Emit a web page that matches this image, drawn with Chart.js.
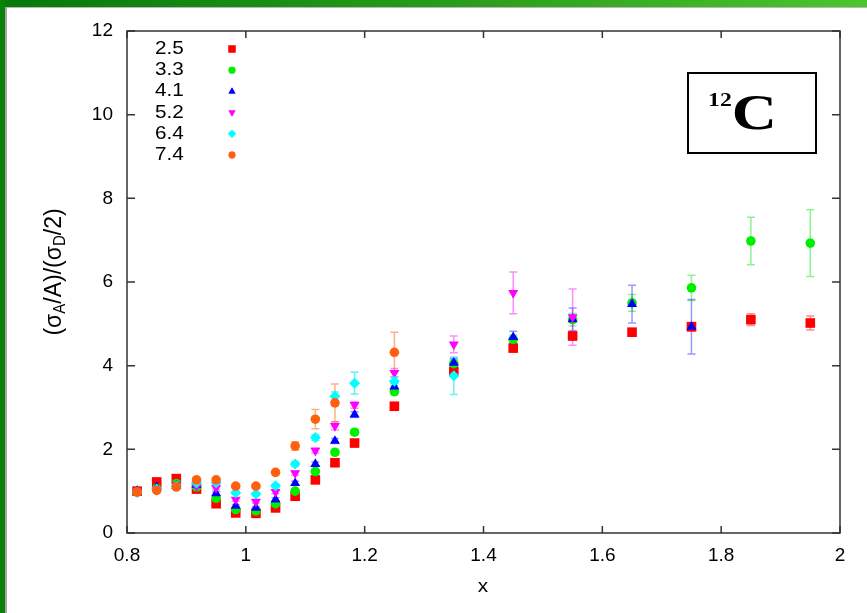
<!DOCTYPE html>
<html><head><meta charset="utf-8">
<script src="https://cdn.jsdelivr.net/npm/chart.js@4.4.1/dist/chart.umd.min.js"></script>
<style>
html,body{margin:0;padding:0;background:#fff;}
#wrap{position:relative;width:867px;height:613px;overflow:hidden;background:#fff;}
#c{position:absolute;left:0;top:0;}
#topbar{position:absolute;left:0;top:0;width:867px;height:7px;background:linear-gradient(to right,#07780a,#2c9e1c 55%,#4ec42e);}
#topline{position:absolute;left:0;top:7px;width:867px;height:1px;background:#b8b8b8;}
#leftbar{position:absolute;left:0;top:0;width:5px;height:613px;background:#0a820a;}
#leftline{position:absolute;left:5px;top:7px;width:2px;height:606px;background:#a8a8a8;}
</style></head>
<body><div id="wrap"><canvas id="c" width="867" height="613"></canvas>
<div id="topbar"></div><div id="topline"></div><div id="leftbar"></div><div id="leftline"></div></div>
<script>
// ---- data ----
const xValues = [0.817,0.85,0.883,0.917,0.95,0.983,1.017,1.05,1.083,1.117,1.15,1.183,1.25,1.35,1.45,1.55,1.65,1.75,1.85,1.95];
const seriesLabels = ['2.5','3.3','4.1','5.2','6.4','7.4'];
const y25 = [1.00,1.22,1.30,1.05,0.70,0.48,0.47,0.60,0.88,1.27,1.68,2.15,3.03,3.86,4.42,4.71,4.80,4.93,5.10,5.02];
const e25 = [0.04,0.04,0.05,0.04,0.04,0.03,0.03,0.03,0.04,0.05,0.06,0.07,0.08,0.08,0.08,0.10,0.08,0.10,0.14,0.17];
const y33 = [0.98,1.07,1.18,1.10,0.83,0.56,0.53,0.70,1.00,1.47,1.93,2.41,3.38,4.05,4.63,5.10,5.50,5.86,6.98,6.93];
const e33 = [0.04,0.04,0.04,0.04,0.04,0.03,0.03,0.03,0.04,0.05,0.06,0.07,0.08,0.10,0.10,0.15,0.20,0.30,0.57,0.80];
const y41 = [1.00,1.10,1.13,1.15,0.95,0.65,0.60,0.80,1.19,1.65,2.20,2.83,3.50,4.07,4.68,5.11,5.47,4.93,null,null];
const e41 = [0.04,0.04,0.04,0.04,0.04,0.03,0.03,0.04,0.05,0.05,0.06,0.07,0.08,0.10,0.14,0.27,0.45,0.65,null,null];
const y52 = [1.00,1.05,1.15,1.12,1.08,0.80,0.75,0.98,1.43,1.97,2.56,3.06,3.83,4.51,5.74,5.16,null,null,null,null];
const e52 = [0.04,0.04,0.04,0.04,0.04,0.04,0.04,0.04,0.05,0.06,0.10,0.08,0.10,0.20,0.50,0.67,null,null,null,null];
const y64 = [0.97,1.05,1.12,1.20,1.20,0.96,0.93,1.13,1.65,2.28,3.27,3.58,3.63,3.76,null,null,null,null,null,null];
const e64 = [0.04,0.04,0.04,0.04,0.04,0.04,0.04,0.05,0.06,0.07,0.10,0.26,0.10,0.45,null,null,null,null,null,null];
const y74 = [0.98,1.02,1.10,1.27,1.27,1.12,1.12,1.45,2.08,2.72,3.11,null,4.32,null,null,null,null,null,null,null];
const e74 = [0.04,0.04,0.04,0.05,0.05,0.04,0.04,0.05,0.10,0.23,0.45,null,0.48,null,null,null,null,null,null,null];
const xTicks = [0.8,1,1.2,1.4,1.6,1.8,2];
const yTicks = [0,2,4,6,8,10,12];

const seriesY = [y25,y33,y41,y52,y64,y74];
const seriesE = [e25,e33,e41,e52,e64,e74];
const colors = ['#ff0000','#00ee00','#0000ff','#ff00ff','#00ffff','#ff6010'];
const errColors = ['rgba(255,0,0,0.45)','rgba(0,230,0,0.45)','rgba(0,0,255,0.4)','rgba(255,0,255,0.45)','rgba(0,230,230,0.6)','rgba(255,96,16,0.5)'];
const styles = [
  {pointStyle:'rect',rotation:0,radius:6.8,lr:5},
  {pointStyle:'circle',rotation:0,radius:4.8,lr:3.4},
  {pointStyle:'triangle',rotation:0,radius:5.8,lr:4},
  {pointStyle:'triangle',rotation:180,radius:5.8,lr:4},
  {pointStyle:'rectRot',rotation:0,radius:5.5,lr:4},
  {pointStyle:'circle',rotation:0,radius:4.8,lr:3.4}
];

const datasets = seriesLabels.map((lab,si)=>({
  label: lab,
  data: xValues.map((x,i)=>({x:x,y:seriesY[si][i],e:seriesE[si][i]})).filter(p=>p.y!==null),
  backgroundColor: colors[si], borderColor: colors[si], borderWidth:0,
  pointStyle: styles[si].pointStyle, rotation: styles[si].rotation,
  pointRadius: styles[si].radius, pointHoverRadius: styles[si].radius,
  showLine:false, order: 6-si, errColor: errColors[si]
}));

const FONT = 'Liberation Sans, Arial, Helvetica, sans-serif';

const errPlugin = {id:'errbars', beforeDatasetsDraw(chart){
  const ctx = chart.ctx, xs = chart.scales.x, ys = chart.scales.y;
  chart.data.datasets.forEach(ds=>{
    ctx.save(); ctx.strokeStyle = ds.errColor; ctx.lineWidth = 1.5;
    ds.data.forEach(p=>{
      if(!p.e) return;
      const px = xs.getPixelForValue(p.x), a = ys.getPixelForValue(p.y-p.e), b = ys.getPixelForValue(p.y+p.e);
      ctx.beginPath();
      ctx.moveTo(px,a); ctx.lineTo(px,b);
      ctx.moveTo(px-4,a); ctx.lineTo(px+4,a);
      ctx.moveTo(px-4,b); ctx.lineTo(px+4,b);
      ctx.stroke();
    });
    ctx.restore();
  });
}};

function stretchText(ctx, txt, x, y, sx){
  ctx.save(); ctx.translate(x, y); ctx.scale(sx, 1); ctx.fillText(txt, 0, 0); ctx.restore();
}

const decoPlugin = {id:'deco', afterDraw(chart){
  const ctx = chart.ctx, xs = chart.scales.x, ys = chart.scales.y, ca = chart.chartArea;
  ctx.save();
  // frame
  ctx.strokeStyle = '#333'; ctx.lineWidth = 1.5;
  ctx.strokeRect(ca.left, ca.top, ca.right-ca.left, ca.bottom-ca.top);
  // inward ticks
  ctx.beginPath();
  xTicks.forEach(v=>{ const p = xs.getPixelForValue(v);
    ctx.moveTo(p,ca.bottom); ctx.lineTo(p,ca.bottom-7);
    ctx.moveTo(p,ca.top); ctx.lineTo(p,ca.top+7); });
  yTicks.forEach(v=>{ const p = ys.getPixelForValue(v);
    ctx.moveTo(ca.left,p); ctx.lineTo(ca.left+8,p);
    ctx.moveTo(ca.right,p); ctx.lineTo(ca.right-8,p); });
  ctx.stroke();
  // legend
  ctx.font = '18px ' + FONT; ctx.textBaseline = 'middle'; ctx.textAlign = 'left';
  seriesLabels.forEach((lab,i)=>{
    const yy = 49 + i*21.2;
    ctx.fillStyle = '#000'; stretchText(ctx, lab, 155, yy, 1.15);
    ctx.fillStyle = colors[i]; ctx.strokeStyle = colors[i];
    Chart.helpers.drawPoint(ctx, {pointStyle:styles[i].pointStyle, rotation:styles[i].rotation, radius:styles[i].lr, borderWidth:0}, 232, yy);
    ctx.fill();
  });
  // x title
  ctx.fillStyle = '#000'; ctx.textAlign = 'center'; ctx.textBaseline = 'middle';
  ctx.font = '18px ' + FONT; stretchText(ctx, 'x', 483, 587, 1.15);
  // y title with subscripts
  const parts = [['(σ',0],['A',1],['/A)/(σ',0],['D',1],['/2)',0]];
  const mainF = '23px ' + FONT, subF = '15px ' + FONT;
  let total = 0;
  parts.forEach(p=>{ ctx.font = p[1]?subF:mainF; total += ctx.measureText(p[0]).width; });
  ctx.save(); ctx.translate(54, 272); ctx.rotate(-Math.PI/2); ctx.scale(1, 1.05);
  ctx.textAlign = 'left'; ctx.textBaseline = 'middle';
  let cx = -total/2;
  parts.forEach(p=>{ ctx.font = p[1]?subF:mainF; ctx.fillText(p[0], cx, p[1]?6:0); cx += ctx.measureText(p[0]).width; });
  ctx.restore();
  // 12C label box
  ctx.fillStyle = '#fff'; ctx.fillRect(688,73,128,80);
  ctx.strokeStyle = '#000'; ctx.lineWidth = 2; ctx.strokeRect(688,73,128,80);
  ctx.fillStyle = '#000'; ctx.textAlign = 'left'; ctx.textBaseline = 'alphabetic';
  ctx.save(); ctx.translate(708, 0); ctx.scale(1.25, 1);
  ctx.font = 'bold 19px "Liberation Serif", "Times New Roman", serif'; ctx.fillText('12', 0, 106);
  const w12 = ctx.measureText('12').width;
  ctx.font = 'bold 50px "Liberation Serif", "Times New Roman", serif'; ctx.fillText('C', w12, 129);
  ctx.restore();
  ctx.restore();
}};

new Chart(document.getElementById('c'), {
  type:'scatter',
  data:{datasets},
  options:{
    responsive:false, animation:false, devicePixelRatio:1,
    layout:{padding:{top:31,right:27,left:0,bottom:0}},
    plugins:{legend:{display:false}, tooltip:{enabled:false}},
    elements:{point:{borderWidth:0}},
    scales:{
      x:{type:'linear', min:0.8, max:2,
        afterBuildTicks:s=>{ s.ticks = xTicks.map(v=>({value:v})); },
        afterFit:s=>{ s.height = 80; },
        grid:{display:false, drawTicks:false}, border:{display:false},
        ticks:{padding:11, color:'#000', font:{family:FONT,size:19}, maxRotation:0,
          callback:v=>String(Math.round(v*10)/10)}},
      y:{type:'linear', min:0, max:12,
        afterBuildTicks:s=>{ s.ticks = yTicks.map(v=>({value:v})); },
        afterFit:s=>{ s.width = 127; },
        grid:{display:false, drawTicks:false}, border:{display:false},
        ticks:{padding:14, color:'#000', font:{family:FONT,size:19},
          callback:v=>String(v)}}
    }
  },
  plugins:[errPlugin, decoPlugin]
});
</script></body></html>
